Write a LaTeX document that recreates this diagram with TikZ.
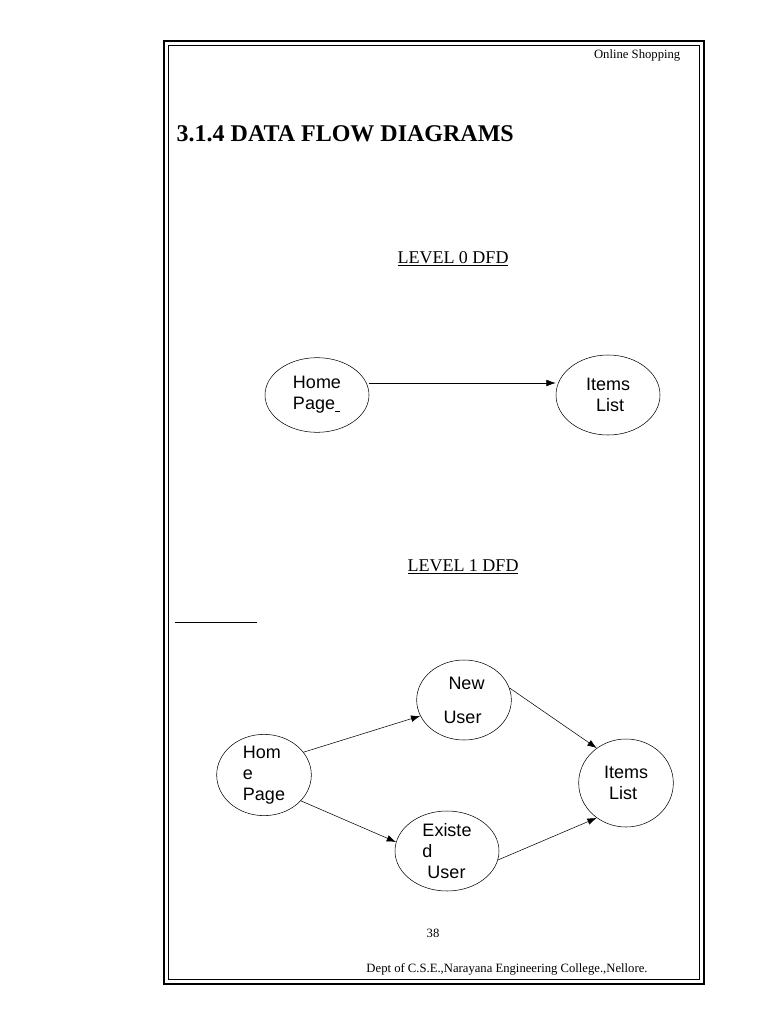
\documentclass[tikz,border=0pt]{standalone}
\usepackage{fontspec}
\setmainfont{Liberation Serif}
\setsansfont{Liberation Sans}
\usetikzlibrary{arrows.meta}
\usetikzlibrary{shapes.geometric}

\begin{document}
\begin{tikzpicture} [
        x=0.75pt, y=-0.75pt,
        bubble/.style={draw, ellipse, thin, font=\sffamily\fontsize{13.5}{15.5}\selectfont, align=left, inner sep=0pt},
        flow/.style={-{Latex[length=7pt,width=5pt]}, thin},
        heading/.style={font=\fontsize{13.5}{16}\selectfont} ]
    \useasboundingbox (0,0) rectangle (768,1024);
    % page frame
    \draw[line width=2.2pt] (164,41) rectangle (704,984);
    \draw[line width=0.5pt] (168.5,45.5) rectangle (699.5,979.5);
    \node[anchor=east, font=\fontsize{9.5}{11}\selectfont] (hdr) at (685,55) {Online Shopping};
    \node[anchor=west, font=\bfseries\fontsize{18}{21}\selectfont] (title) at (172,134) {3.1.4 DATA FLOW DIAGRAMS};
    % level 0
    \node[heading] (lvl0) at (453,259) {\underline{LEVEL 0 DFD}};
    \node[bubble, minimum width=78pt, minimum height=56pt] (home0) at (317,395) {Home\\Page\underline{\ }};
    \node[bubble, minimum width=78pt, minimum height=60pt] (items0) at (608,395) {Items\\\ \ List};
    \draw[flow] (home0.east |- 0,383) -- (items0.west |- 0,383);
    % level 1
    \node[heading] (lvl1) at (463,567) {\underline{LEVEL 1 DFD}};
    \draw[line width=0.6pt] (175,622) coordinate (ul1) -- (257,622) coordinate (ul2);
    \node[bubble, minimum width=71pt, minimum height=60pt] (home1) at (264,775) {Hom\\e\\Page};
    \node[bubble, minimum width=71pt, minimum height=60pt] (newu) at (464,700) {\ New\\[10pt]User};
    \node[bubble, minimum width=78pt, minimum height=60pt] (oldu) at (447,851) {Existe\\d\\\ User};
    \node[bubble, minimum width=71pt, minimum height=66pt] (items1) at (626,783) {Items\\\ List};
    \draw[flow] (home1.30) -- (newu.200);
    \draw[flow] (home1.-35) -- (oldu.170);
    \draw[flow] (newu.15) -- (items1.130);
    \draw[flow] (oldu.-10) -- (items1.-130);
    \node[font=\fontsize{9.5}{11}\selectfont] (pnum) at (433,933) {38};
    \node[font=\fontsize{9.5}{11}\selectfont] (ftr) at (507,969) {Dept of C.S.E.,Narayana Engineering College.,Nellore.};
\end{tikzpicture}
\end{document}
